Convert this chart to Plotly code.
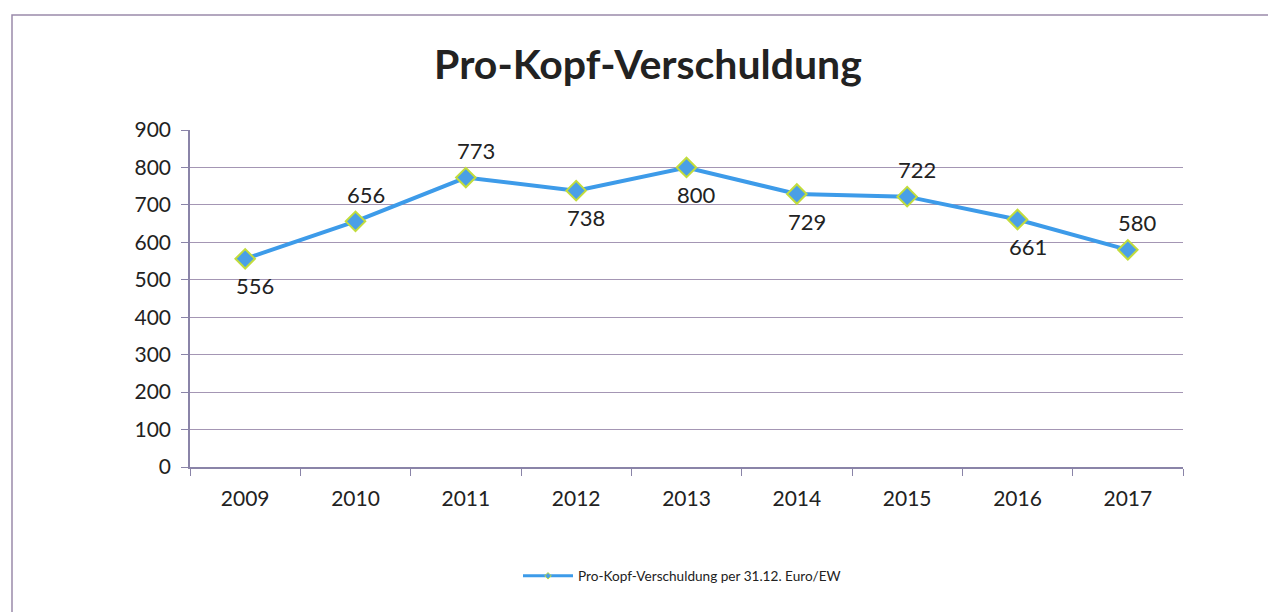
import plotly.graph_objects as go

years = ["2009", "2010", "2011", "2012", "2013", "2014", "2015", "2016", "2017"]
values = [556, 656, 773, 738, 800, 729, 722, 661, 580]
label_above = [False, True, True, False, False, False, True, False, True]
y_ticks = [0, 100, 200, 300, 400, 500, 600, 700, 800, 900]

# page body has an 8px margin, so the figure is laid out in figure coordinates
OFF = 8
W, H = 1276, 612
L = 190 - OFF
T = 130 - OFF
R = W - (1183 - OFF)
B = H - (467 - OFF)
pw, ph = W - L - R, H - T - B

FONT = "Lato, Open Sans, sans-serif"
LINE = "#3d9be9"

fig = go.Figure()
fig.add_trace(go.Scatter(
    x=years, y=values, mode="lines+markers",
    name="Pro-Kopf-Verschuldung per 31.12. Euro/EW", showlegend=False,
    line=dict(color=LINE, width=4),
    marker=dict(symbol="diamond", size=15, color="#4a9fe6",
                line=dict(color="#c2dc3c", width=2)),
    cliponaxis=False,
))
# legend entry with small marker as in the reference
fig.add_trace(go.Scatter(
    x=[None], y=[None], mode="lines+markers",
    name="Pro-Kopf-Verschuldung per 31.12. Euro/EW",
    line=dict(color=LINE, width=3),
    marker=dict(symbol="diamond", size=5, color="#4a9fe6", line=dict(color="#c2dc3c", width=1)),
))

# data labels (category index used as the x position on the category axis)
for i, (v, up) in enumerate(zip(values, label_above)):
    fig.add_annotation(x=i, y=v, xref="x", yref="y", text=str(v), showarrow=False,
                       yshift=27 if up else -27, xshift=10,
                       font=dict(family=FONT, size=22, color="#222222"))

fig.update_layout(
    width=W, height=H,
    margin=dict(l=L, r=R, t=T, b=B),
    paper_bgcolor="white", plot_bgcolor="white",
    title=dict(text="<b>Pro-Kopf-Verschuldung</b>", x=(648 - OFF - L) / pw, xanchor="center",
               xref="paper",
               y=1 - (65 - OFF) / H, yanchor="middle",
               font=dict(family=FONT, size=41, color="#222222")),
    font=dict(family=FONT, color="#222222"),
    showlegend=True,
    legend=dict(orientation="h", x=(682 - OFF - L) / pw, xanchor="center",
                y=-(576 - 467) / ph, yanchor="middle",
                font=dict(size=13.6, color="#222222"), itemwidth=50,
                bgcolor="rgba(0,0,0,0)"),
    xaxis=dict(type="category", showgrid=False, showline=True, linecolor="#8a84a8", linewidth=1.5,
               ticks="outside", tickson="boundaries", ticklen=7, tickcolor="#8a84a8",
               ticklabelstandoff=12,
               tickfont=dict(size=21, color="#222222"), range=[-0.5, 8.5]),
    yaxis=dict(range=[0, 900], tickvals=y_ticks, showgrid=True, gridcolor="#a496b4", gridwidth=1,
               showline=True, linecolor="#8a84a8", linewidth=1.5, ticks="outside", ticklen=7,
               ticklabelstandoff=6,
               tickcolor="#8a84a8", tickfont=dict(size=21, color="#222222"), zeroline=False),
)

fig.add_shape(type="rect", xref="paper", yref="paper",
              x0=(12 - OFF - L) / pw, x1=(W + 30 - L) / pw,
              y0=-(H + 30 - (H - B)) / ph, y1=((H - B) - (15 - OFF)) / ph,
              line=dict(color="#9a8aaa", width=1.5), fillcolor="rgba(0,0,0,0)", layer="below")

fig.write_html("out.html")
